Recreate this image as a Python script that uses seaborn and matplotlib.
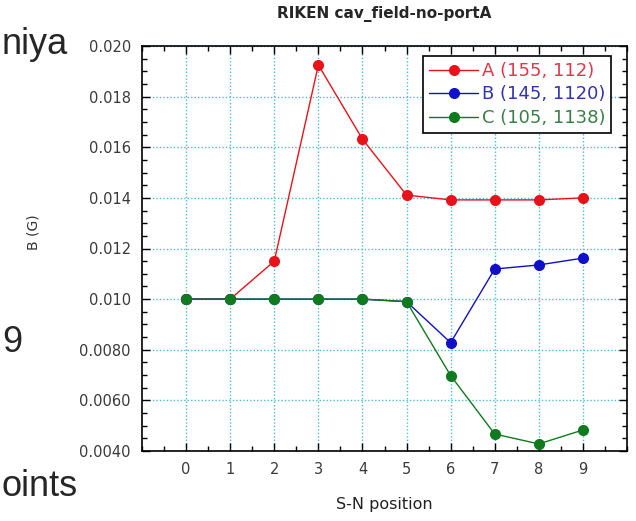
import numpy as np
import pandas as pd
import matplotlib
matplotlib.use("Agg")
import matplotlib.pyplot as plt
import seaborn as sns
from matplotlib.ticker import MultipleLocator, FixedLocator, FixedFormatter

sns.set_style("ticks")
plt.rcParams['font.family'] = ['DejaVu Sans']

# data
positions = [0, 1, 2, 3, 4, 5, 6, 7, 8, 9]
series_a = [0.0100, 0.0100, 0.0115, 0.01925, 0.01632, 0.01411, 0.01392, 0.01392, 0.01392, 0.01400]
series_b = [0.0100, 0.0100, 0.0100, 0.0100, 0.0100, 0.0099, 0.00828, 0.01119, 0.01135, 0.01162]
series_c = [0.0100, 0.0100, 0.0100, 0.0100, 0.0100, 0.0099, 0.00698, 0.00467, 0.00428, 0.00483]
labels = ['A (155, 112)', 'B (145, 1120)', 'C (105, 1138)']
y_ticks = [0.020, 0.018, 0.016, 0.014, 0.012, 0.010, 0.008, 0.006, 0.004]
y_ticklabels = ['0.020', '0.018', '0.016', '0.014', '0.012', '0.010', '0.0080', '0.0060', '0.0040']

line_colors = ['#e8131a', '#1010c8', '#0f7a1e']
text_colors = ['#e03848', '#3333b0', '#3a7f48']

df = pd.DataFrame({
    'pos': positions * 3,
    'B': series_a + series_b + series_c,
    'series': [labels[0]] * 10 + [labels[1]] * 10 + [labels[2]] * 10,
})

fig = plt.figure(figsize=(6.36, 5.21), dpi=100)
ax = fig.add_axes([142 / 636, 1 - 451 / 521, (627 - 142) / 636, (451 - 46) / 521])

sns.lineplot(data=df, x='pos', y='B', hue='series', palette=line_colors,
             marker='o', markersize=8, markeredgewidth=0, linewidth=1.0,
             dashes=False, ax=ax)

ax.set_xlim(-1, 10)
ax.set_ylim(0.004, 0.020)
ax.xaxis.set_major_locator(FixedLocator(positions))
ax.xaxis.set_minor_locator(MultipleLocator(0.5))
ax.yaxis.set_major_locator(FixedLocator(y_ticks))
ax.yaxis.set_major_formatter(FixedFormatter(y_ticklabels))
ax.yaxis.set_minor_locator(MultipleLocator(0.0005))
ax.tick_params(which='both', direction='in', top=True, right=True, color='black')
ax.tick_params(which='major', length=6, width=1, labelsize=10.5, labelcolor='#3a3a3a', pad=8)
ax.tick_params(which='minor', length=3.5, width=1)
ax.grid(True, which='major', linestyle=(0, (1, 1.5)), color='#4fbcd2', linewidth=1.0)
for s in ax.spines.values():
    s.set_color('black')
    s.set_linewidth(1.2)

ax.set_xlabel('S-N position', fontsize=11.5, color='#222222', labelpad=14)
ax.set_ylabel('B (G)', fontsize=10, color='#333333')
ax.yaxis.set_label_coords(-0.21, 0.54)
ax.set_title('RIKEN cav_field-no-portA', fontsize=11, fontweight='bold', pad=20)

leg = ax.legend(loc='upper right', bbox_to_anchor=(0.968, 0.976), frameon=True,
                fancybox=False, edgecolor='black', fontsize=13, handlelength=2.7,
                borderpad=0.35, labelspacing=0.3, handletextpad=0.2, framealpha=1,
                borderaxespad=0)
leg.get_frame().set_linewidth(1.2)
for t, c in zip(leg.get_texts(), text_colors):
    t.set_color(c)

# fragments of the slide text at the left edge
fig.text(0.003, 1 - 45 / 521, 'niya', fontsize=26, family='Liberation Sans', va='center', ha='left')
fig.text(0.003, 1 - 343 / 521, '9', fontsize=26, family='Liberation Sans', va='center', ha='left')
fig.text(0.003, 1 - 486 / 521, 'oints', fontsize=26, family='Liberation Sans', va='center', ha='left')

fig.savefig('out.png', dpi=100)
